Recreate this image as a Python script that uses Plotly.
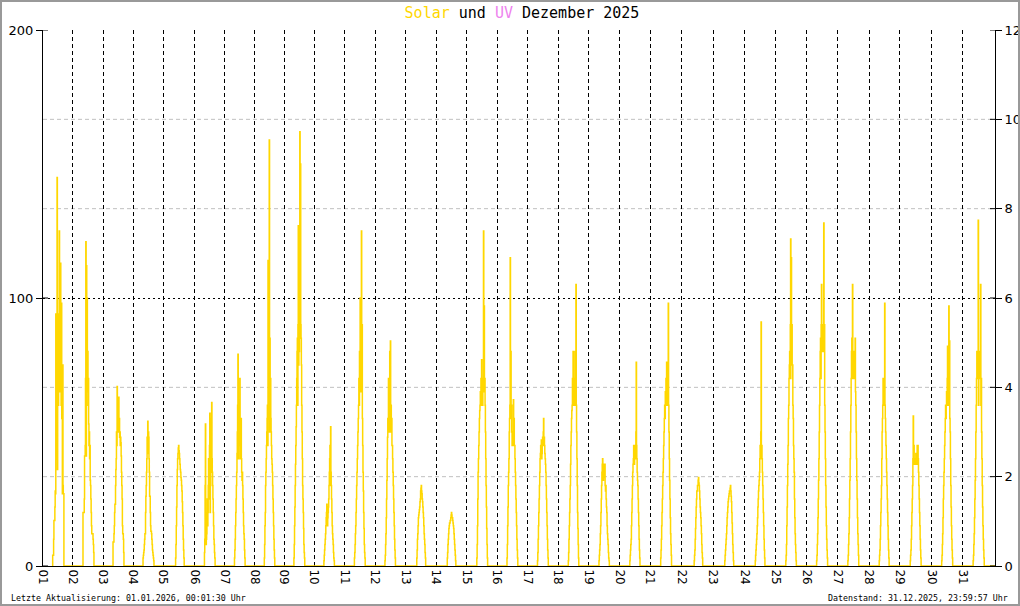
import plotly.graph_objects as go

# ---- data -------------------------------------------------------------
DAY_LABELS = ["01", "02", "03", "04", "05", "06", "07", "08", "09", "10",
              "11", "12", "13", "14", "15", "16", "17", "18", "19", "20",
              "21", "22", "23", "24", "25", "26", "27", "28", "29", "30", "31"]

# x axis = record number of the logger; first record of each day
DAY_START_REC = [0, 281, 563, 844, 1126, 1423, 1705, 1986, 2263, 2542,
                 2828, 3114, 3401, 3687, 3973, 4259, 4545, 4831, 5117, 5408,
                 5694, 5990, 6285, 6583, 6873, 7161, 7452, 7749, 8037, 8334,
                 8625]
LAST_REC = 8928

# sample times of day (hours), 15-minute readings
HOURS = [7.75, 8.00, 8.25, 8.50, 8.75, 9.00, 9.25, 9.50, 9.75, 10.00,
         10.25, 10.50, 10.75, 11.00, 11.25, 11.50, 11.75, 12.00, 12.25, 12.50,
         12.75, 13.00, 13.25, 13.50, 13.75, 14.00, 14.25, 14.50, 14.75, 15.00,
         15.25, 15.50, 15.75, 16.00, 16.25, 16.50, 16.75]

# solar radiation (W/m²) per day at the HOURS above
d01 = [4, 4, 4, 10, 17, 17, 17, 22, 28, 27, 94, 40, 60, 94, 145, 36, 65, 94, 60, 70, 65, 125, 65, 90, 74, 113, 70, 60, 98, 55, 60, 27, 75, 30, 27, 27, 0]
d02 = [0, 20, 20, 20, 20, 25, 41, 41, 45, 70, 121, 41, 112, 65, 100, 70, 80, 60, 70, 53, 45, 50, 40, 45, 32, 30, 25, 20, 15, 12, 12, 12, 12, 10, 8, 5, 0]
d03 = [0, 9, 9, 9, 12, 15, 20, 23, 23, 30, 36, 40, 50, 45, 67, 50, 56, 50, 60, 63, 50, 55, 48, 50, 45, 48, 46, 41, 35, 30, 25, 15, 12, 12, 10, 5, 0]
d04 = [0, 3, 4, 5, 6, 8, 10, 12, 12, 20, 26, 30, 35, 40, 48, 42, 54, 45, 50, 48, 40, 35, 26, 26, 20, 15, 13, 13, 12, 10, 8, 6, 5, 4, 3, 2, 0]
d05 = [0, 0, 0, 0, 0, 0, 0, 3, 8, 15, 22, 30, 36, 40, 42, 44, 45, 43, 42, 40, 38, 36, 35, 33, 32, 30, 28, 24, 20, 15, 10, 6, 3, 0, 0, 0, 0]
d06 = [5, 10, 30, 53, 20, 8, 10, 12, 18, 25, 15, 20, 30, 40, 25, 35, 45, 57, 20, 30, 35, 45, 55, 61, 40, 35, 30, 25, 20, 15, 10, 8, 5, 3, 0, 0, 0]
d07 = [3, 6, 10, 15, 20, 25, 30, 35, 42, 50, 60, 79, 40, 50, 45, 55, 62, 70, 40, 45, 50, 55, 40, 35, 32, 35, 30, 25, 20, 15, 12, 10, 6, 3, 0, 0, 0]
d08 = [3, 8, 15, 20, 30, 35, 40, 45, 50, 55, 60, 45, 114, 60, 85, 55, 159, 50, 85, 60, 70, 55, 50, 45, 40, 38, 35, 30, 25, 20, 15, 10, 6, 3, 0, 0, 0]
d09 = [3, 8, 15, 22, 30, 38, 45, 52, 60, 70, 80, 85, 60, 90, 127, 75, 90, 80, 100, 162, 85, 150, 90, 85, 75, 60, 50, 40, 30, 25, 20, 14, 8, 5, 3, 0, 0]
d10 = [2, 4, 6, 8, 10, 12, 15, 18, 20, 23, 20, 15, 18, 20, 22, 25, 30, 35, 40, 45, 30, 52, 35, 30, 25, 20, 15, 12, 10, 8, 5, 3, 2, 0, 0, 0, 0]
d11 = [3, 5, 8, 12, 15, 20, 25, 30, 35, 40, 45, 50, 55, 60, 70, 60, 80, 70, 100, 65, 80, 70, 125, 65, 90, 55, 45, 35, 28, 20, 14, 8, 5, 3, 0, 0, 0]
d12 = [2, 4, 8, 12, 18, 25, 32, 40, 48, 55, 50, 70, 50, 60, 55, 80, 50, 84, 55, 60, 50, 55, 45, 45, 40, 35, 30, 25, 20, 15, 10, 6, 3, 0, 0, 0, 0]
d13 = [0, 0, 0, 0, 3, 6, 10, 12, 15, 18, 19, 20, 21, 22, 24, 25, 28, 29, 30, 28, 27, 25, 24, 22, 20, 18, 15, 12, 10, 8, 5, 3, 0, 0, 0, 0, 0]
d14 = [0, 0, 0, 0, 3, 5, 8, 10, 12, 14, 15, 16, 16, 17, 17, 18, 19, 20, 19, 18, 18, 17, 16, 15, 14, 12, 10, 8, 6, 4, 2, 0, 0, 0, 0, 0, 0]
d15 = [0, 3, 8, 15, 25, 35, 40, 45, 50, 55, 58, 60, 65, 60, 70, 60, 77, 60, 65, 60, 70, 65, 125, 70, 97, 65, 70, 60, 50, 40, 30, 22, 14, 8, 3, 0, 0]
d16 = [3, 8, 15, 22, 30, 35, 40, 50, 55, 60, 115, 60, 80, 55, 60, 50, 45, 50, 45, 50, 62, 50, 55, 45, 45, 40, 35, 30, 25, 20, 15, 10, 6, 3, 0, 0, 0]
d17 = [2, 5, 10, 15, 20, 25, 30, 35, 40, 42, 45, 44, 47, 40, 42, 45, 48, 45, 50, 55, 45, 48, 45, 42, 40, 38, 35, 30, 25, 20, 15, 10, 6, 3, 0, 0, 0]
d18 = [0, 2, 5, 10, 15, 20, 25, 30, 38, 45, 50, 55, 58, 60, 70, 60, 80, 60, 65, 60, 70, 60, 80, 60, 60, 105, 60, 50, 40, 30, 20, 14, 8, 3, 0, 0, 0]
d19 = [0, 2, 4, 6, 8, 12, 15, 20, 25, 30, 35, 38, 40, 35, 32, 35, 38, 33, 35, 38, 30, 28, 30, 25, 22, 20, 15, 12, 10, 8, 5, 3, 2, 0, 0, 0, 0]
d20 = [0, 2, 4, 6, 8, 10, 15, 20, 25, 30, 35, 38, 40, 45, 40, 38, 42, 45, 40, 45, 50, 76, 45, 40, 35, 32, 30, 25, 20, 15, 10, 6, 3, 0, 0, 0, 0]
d21 = [0, 3, 6, 10, 15, 20, 25, 30, 35, 40, 45, 50, 55, 60, 55, 65, 60, 70, 60, 76, 60, 65, 60, 70, 98, 60, 50, 40, 32, 25, 18, 12, 8, 4, 0, 0, 0]
d22 = [0, 0, 0, 0, 0, 0, 0, 2, 4, 6, 10, 14, 18, 22, 25, 28, 28, 30, 30, 32, 33, 31, 30, 28, 25, 22, 20, 18, 15, 12, 8, 5, 3, 0, 0, 0, 0]
d23 = [0, 0, 0, 0, 2, 4, 6, 8, 10, 12, 15, 18, 20, 22, 24, 25, 26, 27, 28, 28, 29, 30, 28, 26, 24, 20, 16, 12, 8, 5, 2, 0, 0, 0, 0, 0, 0]
d24 = [0, 2, 4, 6, 8, 10, 12, 15, 18, 22, 25, 28, 30, 32, 35, 40, 45, 40, 50, 91, 40, 45, 40, 35, 30, 25, 20, 15, 10, 6, 3, 0, 0, 0, 0, 0, 0]
d25 = [2, 4, 8, 15, 22, 30, 38, 45, 55, 60, 70, 75, 80, 70, 90, 122, 80, 115, 75, 90, 70, 75, 60, 55, 45, 40, 35, 25, 18, 12, 8, 5, 2, 0, 0, 0, 0]
d26 = [2, 4, 8, 12, 18, 25, 32, 40, 50, 60, 70, 80, 85, 70, 90, 105, 80, 90, 85, 80, 90, 80, 128, 80, 90, 60, 50, 40, 30, 22, 15, 10, 6, 3, 0, 0, 0]
d27 = [2, 4, 8, 12, 18, 25, 32, 40, 50, 60, 70, 80, 85, 70, 105, 70, 80, 70, 75, 70, 80, 70, 85, 65, 60, 50, 40, 32, 25, 18, 12, 8, 4, 0, 0, 0, 0]
d28 = [2, 4, 6, 10, 15, 20, 25, 30, 40, 50, 55, 60, 70, 60, 65, 60, 70, 98, 60, 55, 50, 45, 40, 35, 30, 25, 20, 15, 10, 6, 3, 0, 0, 0, 0, 0, 0]
d29 = [2, 4, 6, 10, 15, 20, 25, 30, 40, 56, 40, 45, 38, 40, 38, 40, 38, 42, 40, 38, 40, 45, 38, 45, 40, 35, 30, 25, 20, 15, 10, 6, 3, 0, 0, 0, 0]
d30 = [2, 4, 8, 12, 18, 25, 30, 35, 40, 45, 50, 55, 60, 55, 60, 65, 60, 70, 82, 60, 70, 60, 97, 60, 84, 55, 50, 40, 30, 22, 15, 10, 6, 3, 0, 0, 0]
d31 = [2, 4, 8, 12, 18, 25, 32, 40, 50, 60, 70, 80, 75, 80, 70, 129, 60, 80, 70, 75, 70, 80, 105, 60, 70, 50, 40, 30, 22, 15, 10, 6, 3, 0, 0, 0, 0]

SOLAR_DAYS = [d01, d02, d03, d04, d05, d06, d07, d08, d09, d10, d11, d12, d13,
              d14, d15, d16, d17, d18, d19, d20, d21, d22, d23, d24, d25, d26,
              d27, d28, d29, d30, d31]

LEFT_TICKS = [0, 100, 200]
RIGHT_TICKS = [0, 2, 4, 6, 8, 10, 12]
RIGHT_GRID = [2, 4, 8, 10]

TITLE_HTML = ("<span style='color:#FFD700'>Solar</span> und "
              "<span style='color:#EE82EE'>UV</span> Dezember 2025")
FOOT_LEFT = "Letzte Aktualisierung: 01.01.2026, 00:01:30 Uhr"
FOOT_RIGHT = "Datenstand: 31.12.2025, 23:59:57 Uhr"

# ---- build series -----------------------------------------------------
day_ends = DAY_START_REC[1:] + [LAST_REC]
xs, ys = [], []
for d, vals in enumerate(SOLAR_DAYS):
    start, end = DAY_START_REC[d], day_ends[d]
    xs.append(start + 7.5 / 24.0 * (end - start))
    ys.append(0)
    for h, v in zip(HOURS, vals):
        xs.append(start + h / 24.0 * (end - start))
        ys.append(v)
xs.append(LAST_REC)
ys.append(0)

W, H = 1020, 606
ML, MR, MT, MB = 43, 25, 30, 40
PW, PH = W - ML - MR, H - MT - MB
TICK_IN = 5 / PW   # inner half of the crossing tick marks

mono = "DejaVu Sans Mono"
sans = "DejaVu Sans"

fig = go.Figure()
fig.add_trace(go.Scatter(x=xs, y=ys, mode="lines", line=dict(color="#FFD700", width=1.5, shape="hv"),
                         name="Solar", showlegend=False, hoverinfo="skip"))
fig.add_trace(go.Scatter(x=[None], y=[None], yaxis="y2", mode="lines",
                         line=dict(color="#EE82EE", width=1), name="UV", showlegend=False))

shapes = []
for g in RIGHT_GRID:
    shapes.append(dict(type="line", xref="paper", x0=0, x1=1, yref="y2", y0=g, y1=g,
                       line=dict(color="#c0c0c0", width=1, dash="4px,3px"), layer="below"))
# inner halves of the tick marks (ticks cross the axis lines)
for t in LEFT_TICKS:
    shapes.append(dict(type="line", xref="paper", x0=0, x1=TICK_IN, yref="y", y0=t, y1=t,
                       line=dict(color="black", width=1)))
for t in RIGHT_TICKS:
    shapes.append(dict(type="line", xref="paper", x0=1 - TICK_IN, x1=1, yref="y2", y0=t, y1=t,
                       line=dict(color="black", width=1)))
# outer frame
shapes.append(dict(type="rect", xref="paper", yref="paper",
                   x0=-(ML - 1) / PW, x1=(W - 1 - ML) / PW,
                   y0=-(MB - 1) / PH, y1=1 + (MT - 1) / PH,
                   line=dict(color="#999999", width=2), fillcolor="rgba(0,0,0,0)"))

fig.update_layout(
    width=W, height=H,
    margin=dict(l=ML, r=MR, t=MT, b=MB, autoexpand=False),
    paper_bgcolor="white", plot_bgcolor="white",
    showlegend=False,
    title=dict(text=TITLE_HTML, x=522 / W, xanchor="center", y=1 - 13 / H, yanchor="middle",
               font=dict(family=mono, size=15, color="black")),
    xaxis=dict(range=[0, LAST_REC], tickmode="array", automargin=False,
               tickvals=DAY_START_REC, ticktext=DAY_LABELS, layer="below traces",
               tickangle=90, ticks="", showline=True, linecolor="black", linewidth=1,
               showgrid=True, gridcolor="black", griddash="4px,3px", gridwidth=1,
               zeroline=False, tickfont=dict(family=sans, size=12, color="black")),
    yaxis=dict(range=[0, 200], tickmode="array", tickvals=LEFT_TICKS, automargin=False,
               showline=True, linecolor="black", linewidth=1, ticks="outside", ticklen=6,
               tickcolor="black", showgrid=True, gridcolor="black", griddash="2px,3px",
               zeroline=False, tickfont=dict(family=sans, size=13, color="black")),
    yaxis2=dict(range=[0, 12], tickmode="array", tickvals=RIGHT_TICKS, overlaying="y", side="right",
                automargin=False, showline=True, linecolor="black", linewidth=1, ticks="outside",
                ticklen=6, tickcolor="black", showgrid=False, zeroline=False,
                tickfont=dict(family=sans, size=13, color="black")),
    shapes=shapes,
    annotations=[
        dict(text=FOOT_LEFT, xref="paper", yref="paper", x=-(ML - 9) / PW, y=-(598 - MT - PH) / PH,
             xanchor="left", yanchor="middle", showarrow=False,
             font=dict(family=mono, size=8.3, color="black")),
        dict(text=FOOT_RIGHT, xref="paper", yref="paper", x=(1010 - ML) / PW, y=-(598 - MT - PH) / PH,
             xanchor="right", yanchor="middle", showarrow=False,
             font=dict(family=mono, size=8.3, color="black")),
    ],
)

fig.write_html("out.html", config={"displayModeBar": False},
               post_script="document.body.style.margin='0';")
